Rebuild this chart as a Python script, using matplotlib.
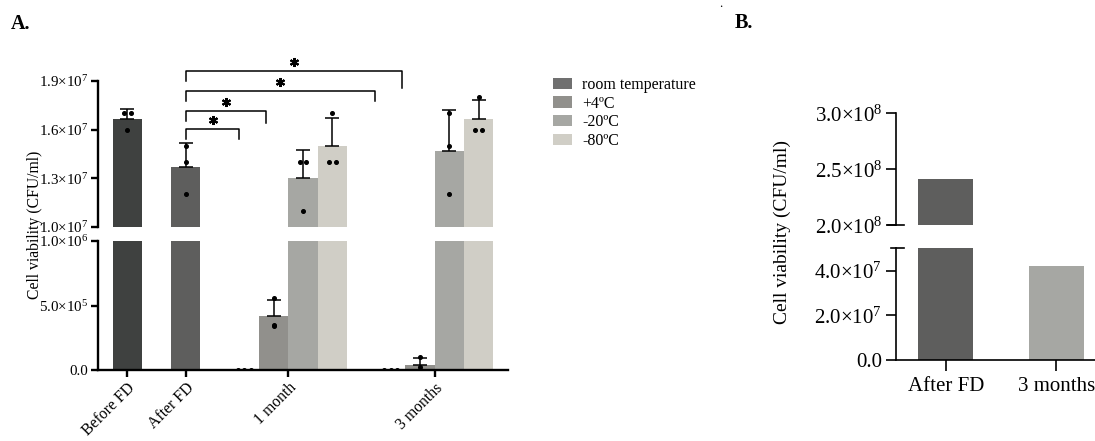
import numpy as np
import matplotlib
matplotlib.use("Agg")
import matplotlib.pyplot as plt
from matplotlib.patches import Patch
from matplotlib.lines import Line2D

plt.rcParams['font.family'] = ['Liberation Serif', 'DejaVu Serif']
plt.rcParams['mathtext.fontset'] = 'custom'
plt.rcParams['mathtext.rm'] = 'Liberation Serif'
plt.rcParams['mathtext.it'] = 'Liberation Serif:italic'

# ---------------- data (panel A) ----------------
group_labels = ["Before FD", "After FD", "1 month", "3 months"]
group_pos = [0, 2, 5.5, 10.5]
legend_labels = ["room temperature", "+4ºC", "-20ºC", "-80ºC"]
legend_colors = ["#707070", "#91908c", "#a6a7a3", "#d0cec6"]

# replicate values (CFU/ml), bar = mean, error = SD
before_fd = [1.7e7, 1.7e7, 1.6e7]
after_fd = [1.5e7, 1.4e7, 1.2e7]
m1_rt = [0, 0, 0]
m1_p4 = [0.56e6, 0.34e6, 0.35e6]
m1_m20 = [1.4e7, 1.4e7, 1.1e7]
m1_m80 = [1.7e7, 1.4e7, 1.4e7]
m3_rt = [0, 0, 0]
m3_p4 = [0.1e6, 0.025e6, 0]
m3_m20 = [1.7e7, 1.5e7, 1.2e7]
m3_m80 = [1.8e7, 1.6e7, 1.6e7]

bar_x = [0, 2, 4, 5, 6, 7, 9, 10, 11, 12]
bar_reps = [before_fd, after_fd, m1_rt, m1_p4, m1_m20, m1_m80,
            m3_rt, m3_p4, m3_m20, m3_m80]
bar_colors = ["#3f4140", "#5e5e5d", "#5e5e5d", "#91908c", "#a6a7a3", "#d0cec6",
              "#5e5e5d", "#91908c", "#a6a7a3", "#d0cec6"]

upper_ticks = [1.0e7, 1.3e7, 1.6e7, 1.9e7]
upper_ticklabels = [r"$1.0{\times}10^{7}$", r"$1.3{\times}10^{7}$",
                    r"$1.6{\times}10^{7}$", r"$1.9{\times}10^{7}$"]
lower_ticks = [0, 5e5, 1e6]
lower_ticklabels = ["0.0", r"$5.0{\times}10^{5}$", r"$1.0{\times}10^{6}$"]

# significance brackets: (x_left, x_right, y_bar, y_right_end, y_left_end)
brackets = [(2, 3.83, 1.604e7, 1.542e7, 1.542e7),
            (2, 4.74, 1.714e7, 1.640e7, 1.650e7),
            (2, 8.46, 1.838e7, 1.779e7, 1.775e7),
            (2, 9.37, 1.963e7, 1.856e7, 1.900e7)]

# ---------------- data (panel B) ----------------
b_labels = ["After FD", "3 months"]
b_values = [2.41e8, 4.21e7]
b_colors = ["#5e5e5d", "#a6a7a3"]
b_upper_ticks = [2.0e8, 2.5e8, 3.0e8]
b_upper_ticklabels = [r"$2.0{\times}10^{8}$", r"$2.5{\times}10^{8}$", r"$3.0{\times}10^{8}$"]
b_lower_ticks = [0, 2e7, 4e7]
b_lower_ticklabels = ["0.0", r"$2.0{\times}10^{7}$", r"$4.0{\times}10^{7}$"]

# ---------------- figure ----------------
W, H = 1095, 441
fig = plt.figure(figsize=(W / 100, H / 100), dpi=100)

def fr(x0, y_top, x1, y_bot):
    return [x0 / W, 1 - y_bot / H, (x1 - x0) / W, (y_bot - y_top) / H]

axU = fig.add_axes(fr(98, 81, 508, 226.7))
axL = fig.add_axes(fr(98, 240.7, 508, 370.3))

fsA = 10.8
lwA = 1.7
for ax in (axU, axL):
    means = [np.mean(r) for r in bar_reps]
    sds = [np.std(r, ddof=1) for r in bar_reps]
    ax.bar(bar_x, means, width=1.0, color=bar_colors, zorder=2)
    for x, m, s in zip(bar_x, means, sds):
        if s > 0:
            ax.errorbar(x, m, yerr=[[0], [s]], fmt='none', ecolor='black',
                        elinewidth=1.1, capsize=5, capthick=1.1, zorder=3)
    for x, reps in zip(bar_x, bar_reps):
        reps = list(reps)
        offs = []
        for i, v in enumerate(reps):
            same = [j for j, w in enumerate(reps) if w == v]
            if len(same) == 1:
                offs.append(0.0)
            else:
                k = same.index(i)
                n = len(same)
                offs.append((k - (n - 1) / 2) * 0.22)
        ax.plot(np.array(offs) + x, reps, 'o', color='black', ms=2.6,
                zorder=4, clip_on=True)
    ax.set_xlim(-1.0, 13.0)
    for s in ('top', 'right'):
        ax.spines[s].set_visible(False)
    ax.spines['left'].set_linewidth(lwA)
    ax.spines['bottom'].set_linewidth(lwA)
    ax.tick_params(axis='both', direction='out', width=lwA, length=5,
                   labelsize=fsA, pad=2)

axU.set_ylim(1.0e7, 1.9e7)
axU.set_yticks(upper_ticks)
axU.set_yticklabels(upper_ticklabels)
axU.spines['bottom'].set_visible(False)
axU.set_xticks([])

axL.set_ylim(0, 1e6)
axL.set_yticks(lower_ticks)
axL.set_yticklabels(lower_ticklabels)
axL.set_xticks(group_pos)
axL.set_xticklabels(group_labels, rotation=45, ha='right',
                    rotation_mode='anchor', fontsize=11.3)

for (xl, xr, yb, yr, yl) in brackets:
    axU.plot([xl, xl, xr, xr], [yl, yb, yb, yr], color='black', lw=1.1,
             clip_on=False, zorder=5)
    axU.plot([(xl + xr) / 2], [yb + 0.056e7], marker=(6, 2, 0), ms=6.5,
             mew=1.5, color='black', clip_on=False, zorder=5)

fig.text(35 / W, 1 - 225 / H, "Cell viability (CFU/ml)", rotation=90,
         ha='center', va='center', fontsize=11.3)

handles = [Patch(facecolor=c, edgecolor='none') for c in legend_colors]
fig.legend(handles, legend_labels, loc='upper left',
           bbox_to_anchor=(542 / W, 1 - 66 / H), frameon=False,
           fontsize=11.5, handlelength=1.2, handleheight=0.72,
           handletextpad=0.6, labelspacing=0.16, borderpad=0.2)

# ---------------- panel B ----------------
bU = fig.add_axes(fr(896, 113.3, 1095, 225.3))
bL = fig.add_axes(fr(896, 248.3, 1095, 360))
fsB = 15
lwB = 1.2
for ax in (bU, bL):
    ax.bar([0, 1], b_values, width=0.5, color=b_colors, zorder=2)
    ax.set_xlim(-0.45, 1.35)
    for s in ('top', 'right'):
        ax.spines[s].set_visible(False)
    ax.spines['left'].set_linewidth(lwB)
    ax.spines['bottom'].set_linewidth(lwB)
    ax.tick_params(axis='both', direction='out', width=lwB, length=7,
                   labelsize=fsB, pad=3)

bU.set_ylim(2.0e8, 3.0e8)
bU.set_yticks(b_upper_ticks)
bU.set_yticklabels(b_upper_ticklabels)
bU.spines['bottom'].set_visible(False)
bU.set_xticks([])

bL.set_ylim(0, 5e7)
bL.set_yticks(b_lower_ticks)
bL.set_yticklabels(b_lower_ticklabels)
bL.set_xticks([0, 1])
bL.set_xticklabels(b_labels, fontsize=fsB)
bL.tick_params(axis='x', length=8, pad=4)

# break caps on panel B axis
bU.add_line(Line2D([-0.04, 0.04], [0, 0], transform=bU.transAxes,
                   color='black', lw=lwB, clip_on=False))
bL.add_line(Line2D([-0.025, 0.04], [1, 1], transform=bL.transAxes,
                   color='black', lw=lwB, clip_on=False))

fig.text(782 / W, 1 - 232 / H, "Cell viability (CFU/ml)", rotation=90,
         ha='center', va='center', fontsize=14)

fig.text(11 / W, 1 - 24 / H, "A.", fontsize=14.5, fontweight='bold',
         ha='left', va='center')
fig.text(735 / W, 1 - 23 / H, "B.", fontsize=14.5, fontweight='bold',
         ha='left', va='center')
fig.text(721 / W, 1 - 7 / H, ".", fontsize=9, ha='center', va='baseline')

fig.savefig("out.png", dpi=100)
